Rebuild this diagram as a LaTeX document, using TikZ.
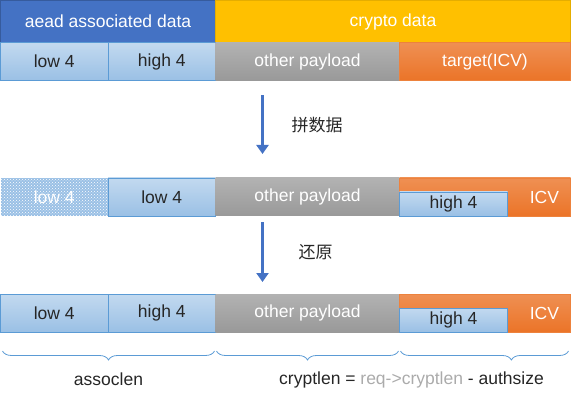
\documentclass[tikz,border=0pt]{standalone}
\usepackage{fontspec}
\setmainfont{Liberation Sans}
\newfontfamily\cjk{Noto Sans CJK SC}
\usetikzlibrary{positioning,patterns,arrows.meta,decorations.pathreplacing}

\definecolor{hdrblue}{HTML}{4472C4}
\definecolor{hdryellow}{HTML}{FFC000}
\definecolor{cellblue}{HTML}{9AC0E5}
\definecolor{cellline}{HTML}{5B9BD5}
\definecolor{paygray}{HTML}{999999}
\definecolor{icvorange}{HTML}{EB7428}
\definecolor{txtgray}{HTML}{ABABAB}

\begin{document}
\begin{tikzpicture}[x=1pt, y=-1pt, font=\fontsize{17.5}{20}\selectfont]
    % Styles
    \tikzstyle{cell} = [rectangle, inner sep=0pt, outer sep=0pt, minimum height=38pt]
    \tikzstyle{header} = [cell, minimum height=42pt, text=white]
    \tikzstyle{half} = [cell, draw=cellline, line width=0.8pt, top color=cellblue!60!white, bottom color=cellblue, text=black!85]
    \tikzstyle{payload} = [cell, top color=paygray!75!white, bottom color=paygray, text=white]
    \tikzstyle{icv} = [cell, draw=icvorange!90!white, line width=0.6pt, top color=icvorange!80!white, bottom color=icvorange, text=white]
    \tikzstyle{flow} = [draw=hdrblue, line width=3.5pt, -{Triangle[length=9pt,width=12pt]}]
    \tikzstyle{brace} = [draw=cellline, line width=0.8pt, decorate, decoration={brace, mirror, amplitude=9pt}]

    \useasboundingbox (0,0) rectangle (572,403);

    % Row 1: original request
    \node [header, fill=hdrblue, draw=hdrblue!80!black, minimum width=215pt, anchor=north west] (aead) at (0.5,0.5) {aead associated data};
    \node [header, fill=hdryellow, draw=hdryellow!90!black, minimum width=355pt, right=0pt of aead] (crypto) {crypto data};
    \node [half, minimum width=107.5pt, anchor=north west] (lo1) at (0.5,42.5) {low 4};
    \node [half, minimum width=107.5pt, right=0pt of lo1] (hi1) {high 4};
    \node [payload, minimum width=184pt, right=0pt of hi1] (pay1) {other payload};
    \node [icv, minimum width=171pt, right=0pt of pay1] (icv1) {target(ICV)};

    % Row 2: after joining
    \node [cell, minimum width=107.5pt, anchor=north west, preaction={fill=cellblue}, pattern=crosshatch dots, pattern color=white, text=white] (lo2a) at (0.5,178) {low 4};
    \node [half, minimum width=107.5pt, right=0pt of lo2a] (lo2) {low 4};
    \node [payload, minimum width=184pt, right=0pt of lo2] (pay2) {other payload};
    \node [icv, minimum width=171pt, right=0pt of pay2] (icv2) {};
    \node [half, minimum width=108pt, minimum height=24pt, anchor=south west] (hi2) at (icv2.south west) {high 4};
    \node [text=white, anchor=east] (icvlab2) at ([xshift=-8pt]icv2.east) {ICV};

    % Row 3: restored
    \node [half, minimum width=107.5pt, anchor=north west] (lo3) at (0.5,294) {low 4};
    \node [half, minimum width=107.5pt, right=0pt of lo3] (hi3) {high 4};
    \node [payload, minimum width=184pt, right=0pt of hi3] (pay3) {other payload};
    \node [icv, minimum width=171pt, right=0pt of pay3] (icv3) {};
    \node [half, minimum width=108pt, minimum height=24pt, anchor=south west] (hi3b) at (icv3.south west) {high 4};
    \node [text=white, anchor=east] (icvlab3) at ([xshift=-8pt]icv3.east) {ICV};

    % Edges
    \draw [flow] ([xshift=47pt,yshift=-15pt]pay1.south west) -- node[right=24pt, text=black!85, font=\cjk\fontsize{17}{20}\selectfont] {拼数据} ([xshift=47pt,yshift=24pt]pay2.north west);
    \draw [flow] ([xshift=47pt,yshift=-6pt]pay2.south west) -- node[right=31pt, text=black!85, font=\cjk\fontsize{17}{20}\selectfont] {还原} ([xshift=47pt,yshift=12pt]pay3.north west);

    % Lengths
    \draw [brace] ([xshift=2pt,yshift=-19pt]lo3.south west) -- node[below=18pt, text=black!85] {assoclen} ([xshift=-1pt,yshift=-19pt]hi3.south east);
    \draw [brace] ([xshift=1pt,yshift=-19pt]pay3.south west) -- ([xshift=-1pt,yshift=-19pt]pay3.south east);
    \draw [brace, decoration={aspect=0.66}] ([xshift=1pt,yshift=-19pt]icv3.south west) -- ([xshift=-2pt,yshift=-19pt]icv3.south east);
    \node [below=36pt of pay3.south east, xshift=12pt, text=black!85] (cryptlen) {cryptlen = \textcolor{txtgray}{req-{}>cryptlen} - authsize};
\end{tikzpicture}
\end{document}
